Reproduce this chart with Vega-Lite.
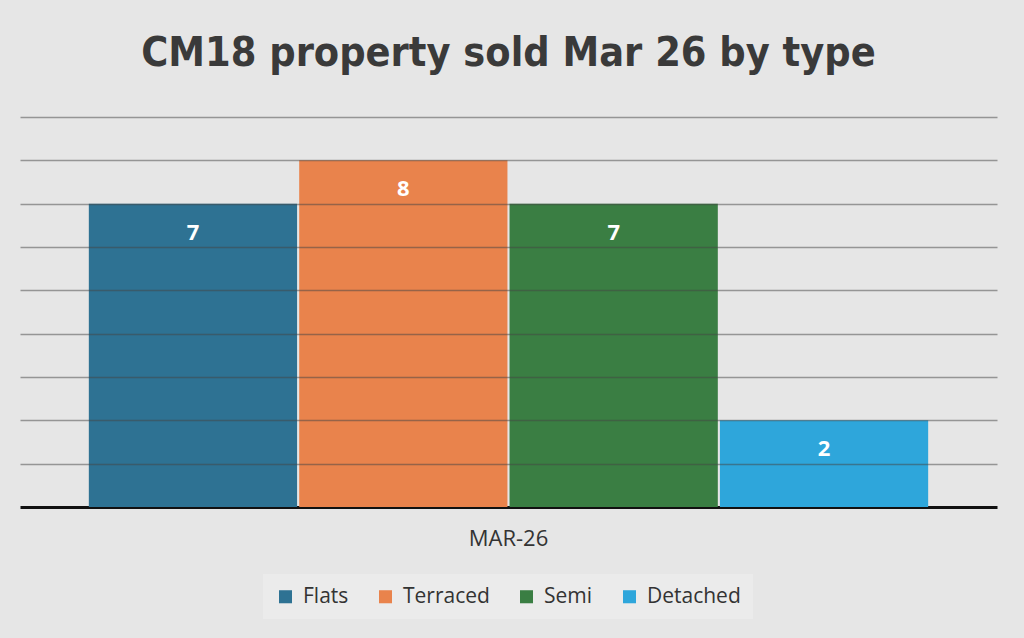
{
  "$schema": "https://vega.github.io/schema/vega-lite/v6.json",
  "autosize": "none",
  "width": 977,
  "height": 390,
  "padding": {"left": 20, "top": 117, "right": 27, "bottom": 131},
  "background": "#e6e6e6",
  "title": {
    "text": "CM18 property sold Mar 26 by type",
    "font": "Liberation Sans Narrow, DejaVu Sans Condensed, Roboto, sans-serif",
    "fontSize": 41,
    "fontWeight": "bold",
    "color": "#3a3a3a",
    "anchor": "middle",
    "offset": 42
  },
  "data": {
    "values": [
      {"month": "MAR-26", "type": "Flats", "count": 7},
      {"month": "MAR-26", "type": "Terraced", "count": 8},
      {"month": "MAR-26", "type": "Semi", "count": 7},
      {"month": "MAR-26", "type": "Detached", "count": 2}
    ]
  },
  "encoding": {
    "x": {
      "field": "month",
      "type": "nominal",
      "title": null,
      "scale": {"paddingInner": 0, "paddingOuter": 0.082},
      "axis": {
        "labelAngle": 0,
        "labelFont": "Open Sans",
        "labelFontSize": 22,
        "labelColor": "#333333",
        "labelPadding": 21,
        "ticks": false,
        "domainColor": "#111111",
        "domainWidth": 3
      }
    },
    "xOffset": {
      "field": "type",
      "type": "nominal",
      "sort": ["Flats", "Terraced", "Semi", "Detached"],
      "scale": {"paddingInner": 0.01}
    },
    "y": {
      "field": "count",
      "type": "quantitative",
      "title": null,
      "scale": {"domain": [0, 9]},
      "axis": {
        "values": [1, 2, 3, 4, 5, 6, 7, 8, 9],
        "labels": false,
        "ticks": false,
        "domain": false,
        "gridColor": "#444444",
        "gridOpacity": 0.5,
        "gridWidth": 1.3,
        "zindex": 1
      }
    }
  },
  "layer": [
    {
      "mark": {"type": "bar"},
      "encoding": {
        "color": {
          "field": "type",
          "type": "nominal",
          "sort": ["Flats", "Terraced", "Semi", "Detached"],
          "scale": {
            "domain": ["Flats", "Terraced", "Semi", "Detached"],
            "range": ["#2e7293", "#e9834c", "#3a7e43", "#2ea6db"]
          },
          "legend": {
            "title": null,
            "orient": "none",
            "legendX": 243,
            "legendY": 457,
            "direction": "horizontal",
            "fillColor": "#ebebeb",
            "padding": 12,
            "symbolType": "square",
            "symbolSize": 170,
            "symbolStrokeWidth": 0,
            "labelFont": "Open Sans",
            "labelFontSize": 21,
            "labelColor": "#333333",
            "labelOffset": 7,
            "columnPadding": 26
          }
        }
      }
    },
    {
      "mark": {
        "type": "text",
        "baseline": "middle",
        "dy": 29,
        "color": "white",
        "font": "Open Sans",
        "fontSize": 22,
        "fontWeight": "bold"
      },
      "encoding": {
        "text": {"field": "count", "type": "quantitative"}
      }
    }
  ],
  "config": {
    "view": {"stroke": null}
  }
}
